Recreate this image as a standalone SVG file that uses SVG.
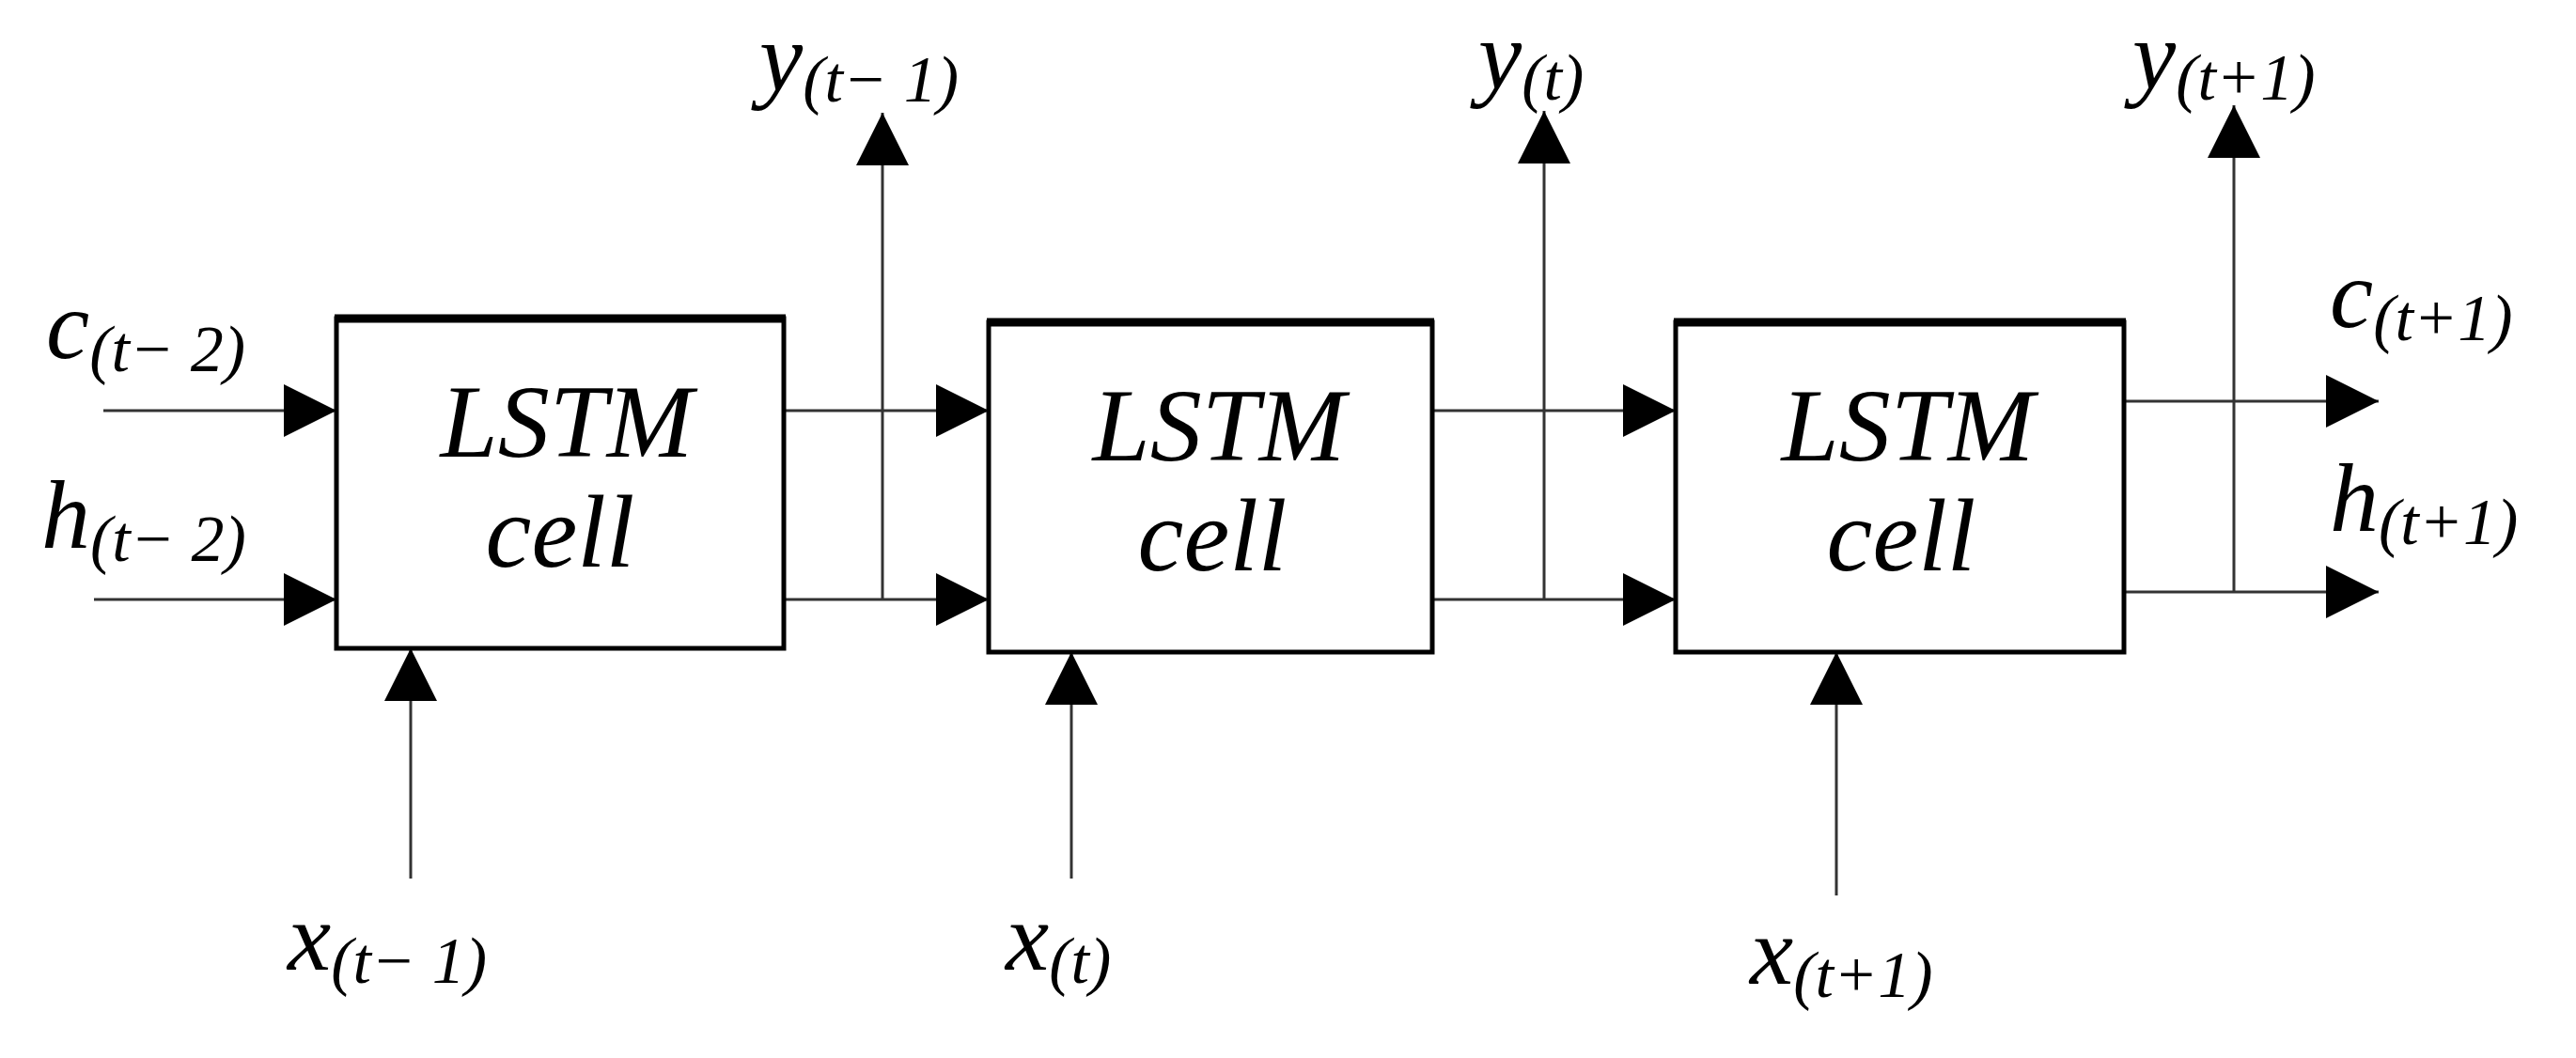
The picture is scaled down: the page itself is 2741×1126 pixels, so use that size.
<svg xmlns="http://www.w3.org/2000/svg" width="2741" height="1126" viewBox="0 0 2741 1126">
<style>
.ln{stroke:#333;stroke-width:3;fill:none}
.box{fill:#fff;stroke:#000;stroke-width:5}
.top{stroke:#000;stroke-width:9}
text{font-family:"Liberation Serif","DejaVu Serif",serif;font-style:italic;fill:#000}
.m{font-size:104px}
.s{font-size:70px}
.cell{font-size:110px;text-anchor:middle}
</style>
<defs>
<marker id="ar" viewBox="0 0 10 10" refX="10" refY="5" markerWidth="56" markerHeight="58" markerUnits="userSpaceOnUse" orient="auto"><path d="M0,0L10,5L0,10z" fill="#000"/></marker>
</defs>
<g id="connectors">
<line class="ln" x1="110" y1="437" x2="358" y2="437" marker-end="url(#ar)"/>
<line class="ln" x1="100" y1="638" x2="358" y2="638" marker-end="url(#ar)"/>
<line class="ln" x1="834" y1="437" x2="1052" y2="437" marker-end="url(#ar)"/>
<line class="ln" x1="834" y1="638" x2="1052" y2="638" marker-end="url(#ar)"/>
<line class="ln" x1="1524" y1="437" x2="1783" y2="437" marker-end="url(#ar)"/>
<line class="ln" x1="1524" y1="638" x2="1783" y2="638" marker-end="url(#ar)"/>
<line class="ln" x1="2260" y1="427" x2="2531" y2="427" marker-end="url(#ar)"/>
<line class="ln" x1="2260" y1="630" x2="2531" y2="630" marker-end="url(#ar)"/>
<line class="ln" x1="939" y1="638" x2="939" y2="120" marker-end="url(#ar)"/>
<line class="ln" x1="1643" y1="638" x2="1643" y2="118" marker-end="url(#ar)"/>
<line class="ln" x1="2377" y1="630" x2="2377" y2="112" marker-end="url(#ar)"/>
<line class="ln" x1="437" y1="935" x2="437" y2="690" marker-end="url(#ar)"/>
<line class="ln" x1="1140" y1="935" x2="1140" y2="694" marker-end="url(#ar)"/>
<line class="ln" x1="1954" y1="953" x2="1954" y2="694" marker-end="url(#ar)"/>
</g>
<g id="cell1">
<rect class="box" x="358" y="339" width="476" height="351"/>
<line class="top" x1="356" y1="339" x2="836" y2="339"/>
<text class="cell" x="603" y="486">LSTM</text>
<text class="cell" x="596" y="603">cell</text>
</g>
<g id="cell2">
<rect class="box" x="1052" y="343" width="472" height="351"/>
<line class="top" x1="1050" y1="343" x2="1526" y2="343"/>
<text class="cell" x="1297" y="490">LSTM</text>
<text class="cell" x="1290" y="607">cell</text>
</g>
<g id="cell3">
<rect class="box" x="1783" y="343" width="477" height="351"/>
<line class="top" x1="1781" y1="343" x2="2262" y2="343"/>
<text class="cell" x="2030" y="490">LSTM</text>
<text class="cell" x="2023" y="607">cell</text>
</g>
<g id="labels">
<text x="49" y="381"><tspan class="m">c</tspan><tspan class="s" dy="14">(t− 2)</tspan></text>
<text x="44" y="583"><tspan class="m">h</tspan><tspan class="s" dy="14">(t− 2)</tspan></text>
<text x="808" y="96"><tspan class="m">y</tspan><tspan class="s" dy="12">(t− 1)</tspan></text>
<text x="1573" y="94"><tspan class="m">y</tspan><tspan class="s" dy="12">(t)</tspan></text>
<text x="2269" y="94"><tspan class="m">y</tspan><tspan class="s" dy="12">(t+1)</tspan></text>
<text x="2479" y="348"><tspan class="m">c</tspan><tspan class="s" dy="14">(t+1)</tspan></text>
<text x="2479" y="565"><tspan class="m">h</tspan><tspan class="s" dy="14">(t+1)</tspan></text>
<text x="306" y="1032"><tspan class="m">x</tspan><tspan class="s" dy="14">(t− 1)</tspan></text>
<text x="1070" y="1032"><tspan class="m">x</tspan><tspan class="s" dy="14">(t)</tspan></text>
<text x="1862" y="1047"><tspan class="m">x</tspan><tspan class="s" dy="14">(t+1)</tspan></text>
</g>
</svg>
